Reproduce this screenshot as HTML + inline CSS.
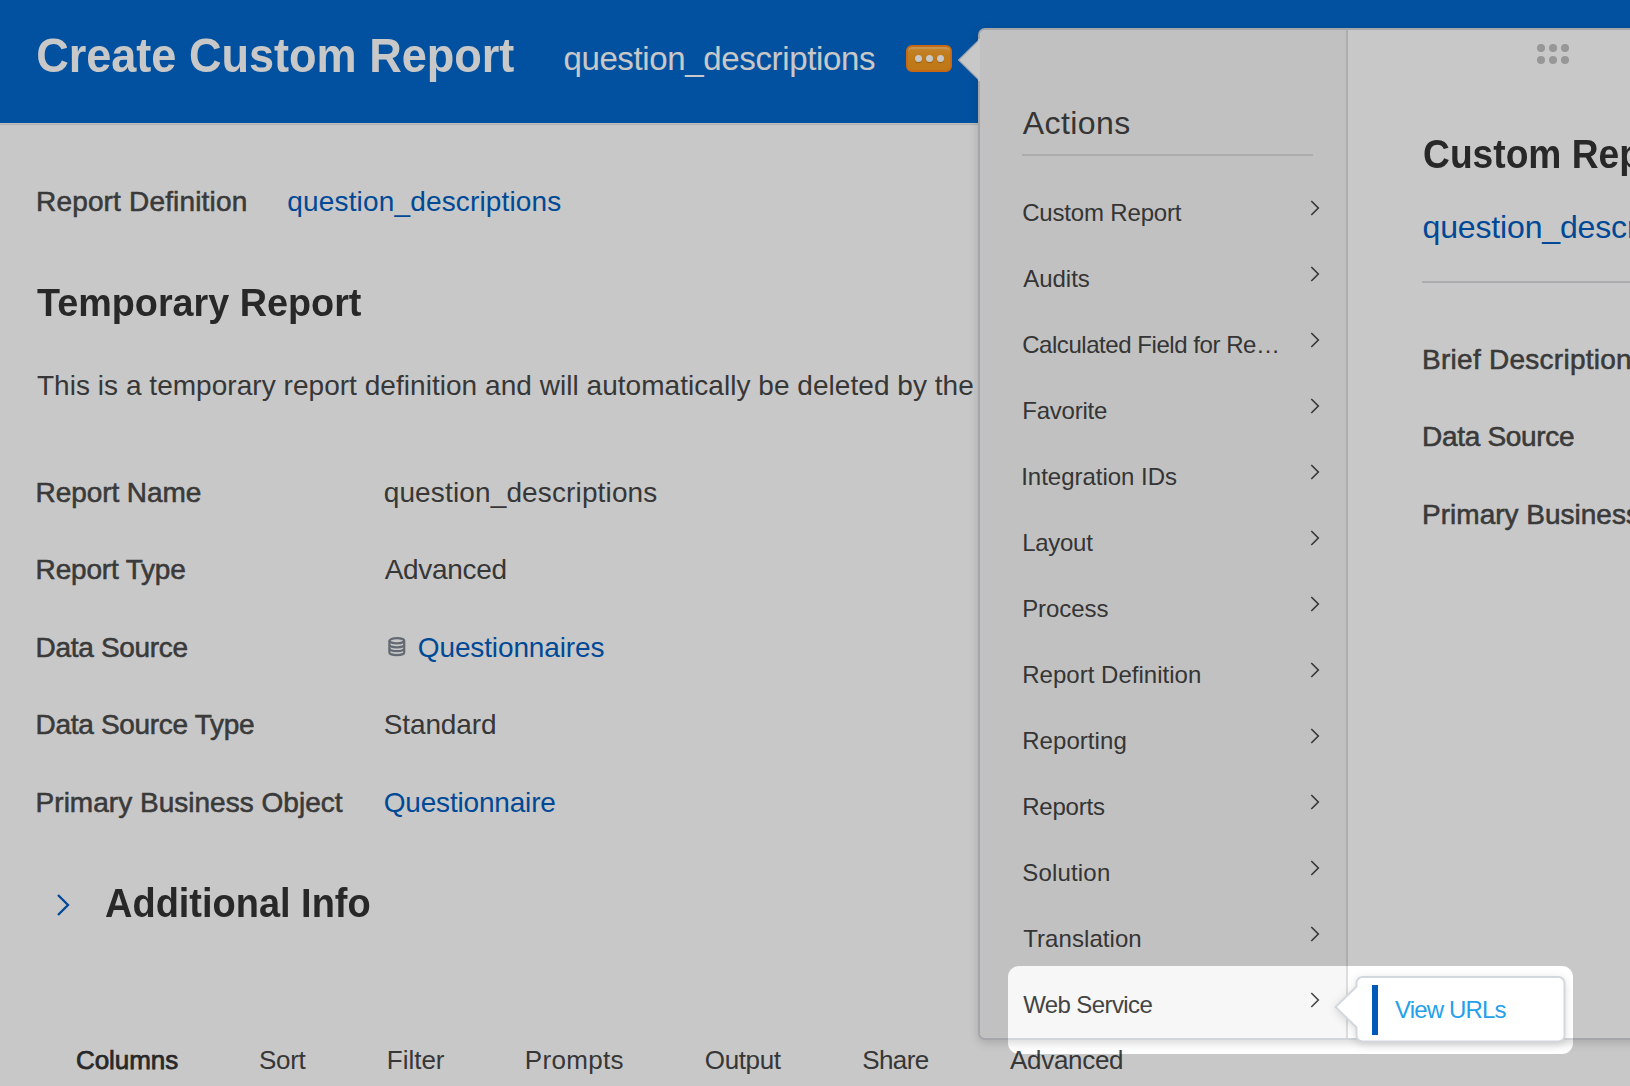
<!DOCTYPE html>
<html><head><meta charset="utf-8"><style>
html,body{margin:0;padding:0;}
body{width:1630px;height:1086px;overflow:hidden;position:relative;background:#ffffff;font-family:"Liberation Sans",sans-serif;}
.t{position:absolute;white-space:nowrap;}
.chev{position:absolute;}
#hdr{position:absolute;left:0;top:0;width:1630px;height:123px;background:#0368cc;box-shadow:0 1px 0 #f8f3f0,0 2px 0 #e0e0e2;}
#btn{position:absolute;left:906px;top:45px;width:42px;height:22.5px;border:2px solid #fd8618;border-radius:6px;background:linear-gradient(#fbaa3a,#f59d22 40%,#f49a1f);box-shadow:inset 0 2px 1px rgba(255,255,255,0.25);}
.bd{position:absolute;width:7px;height:7px;border-radius:50%;background:#fff;top:7.7px;box-shadow:0 1px 1px rgba(140,70,0,0.45);}
#pop{position:absolute;left:978px;top:28px;width:700px;height:1008px;border:2px solid #d1d4d8;border-radius:7px;background:#fff;box-shadow:0 3px 10px rgba(0,0,0,0.16);}
#lp{position:absolute;left:0;top:0;width:366px;height:100%;background:#f7f7f7;border-right:2px solid #dddddd;border-radius:6px 0 0 6px;}
#arrow{position:absolute;left:958px;top:39px;width:22px;height:42px;}
#uline{position:absolute;left:1022px;top:154px;width:291px;height:2px;background:#dcdcdc;}
#rline{position:absolute;left:1422px;top:281px;width:220px;height:2px;background:#dcdce0;}
.dot{position:absolute;width:8px;height:8px;border-radius:50%;background:#c1c1c1;}
#sub{position:absolute;left:1325px;top:970px;filter:drop-shadow(0 2px 4px rgba(0,0,0,0.13));}
#subarrow{position:absolute;left:1333px;top:985px;width:25px;height:45px;}
#bar{position:absolute;left:1372px;top:985px;width:6px;height:50px;background:#0059b8;}
#hole{position:absolute;left:1007.5px;top:966px;width:565px;height:88px;border-radius:11px;box-shadow:0 0 0 3000px rgba(0,0,0,0.216);z-index:50;}
</style></head><body>
<div id="hdr"></div>
<div id="btn"><div class="bd" style="left:6.5px"></div><div class="bd" style="left:17.5px"></div><div class="bd" style="left:28.7px"></div></div>
<svg class="chev" style="left:54px;top:891px" width="18" height="28" viewBox="0 0 18 28"><path d="M4 4 L14 14 L4 24" fill="none" stroke="#005dc0" stroke-width="2.3"/></svg>
<svg style="position:absolute;left:386px;top:636px" width="22" height="22" viewBox="0 0 22 22"><g fill="none" stroke="#7f8893" stroke-width="2.2"><ellipse cx="10.8" cy="4.8" rx="7.4" ry="2.6"/><path d="M3.4 4.8 V16.4 C3.4 18 7 19.1 10.8 19.1 C14.6 19.1 18.2 18 18.2 16.4 V4.8"/><path d="M3.4 8.7 C3.4 10.3 7 11.3 10.8 11.3 C14.6 11.3 18.2 10.3 18.2 8.7"/><path d="M3.4 12.6 C3.4 14.2 7 15.2 10.8 15.2 C14.6 15.2 18.2 14.2 18.2 12.6"/></g></svg>
<div class="t" style="left:35.9px;top:31.3px;font-size:49px;line-height:49px;font-weight:bold;color:#ffffff;letter-spacing:0.00px;transform:scaleX(0.9196);transform-origin:2.0px 0;">Create Custom Report</div>
<div class="t" style="left:563.4px;top:41.9px;font-size:33px;line-height:33px;font-weight:normal;color:#ffffff;letter-spacing:-0.36px;">question_descriptions</div>
<div class="t" style="left:36.0px;top:187.6px;font-size:28px;line-height:28px;font-weight:normal;color:#4a4a4a;letter-spacing:0.17px;-webkit-text-stroke:0.55px currentColor;">Report Definition</div>
<div class="t" style="left:287.3px;top:187.8px;font-size:28px;line-height:28px;font-weight:normal;color:#005dc0;letter-spacing:0.16px;">question_descriptions</div>
<div class="t" style="left:36.9px;top:283.2px;font-size:39px;line-height:39px;font-weight:bold;color:#333333;letter-spacing:0.00px;transform:scaleX(0.9678);transform-origin:0.0px 0;">Temporary Report</div>
<div class="t" style="left:36.9px;top:371.8px;font-size:28px;line-height:28px;font-weight:normal;color:#474747;letter-spacing:0.04px;">This is a temporary report definition and will automatically be deleted by the system</div>
<div class="t" style="left:35.6px;top:478.9px;font-size:28px;line-height:28px;font-weight:normal;color:#4a4a4a;letter-spacing:-0.09px;-webkit-text-stroke:0.55px currentColor;">Report Name</div>
<div class="t" style="left:35.6px;top:556.3px;font-size:28px;line-height:28px;font-weight:normal;color:#4a4a4a;letter-spacing:-0.18px;-webkit-text-stroke:0.55px currentColor;">Report Type</div>
<div class="t" style="left:35.6px;top:633.8px;font-size:28px;line-height:28px;font-weight:normal;color:#4a4a4a;letter-spacing:-0.32px;-webkit-text-stroke:0.55px currentColor;">Data Source</div>
<div class="t" style="left:35.6px;top:711.3px;font-size:28px;line-height:28px;font-weight:normal;color:#4a4a4a;letter-spacing:-0.31px;-webkit-text-stroke:0.55px currentColor;">Data Source Type</div>
<div class="t" style="left:35.6px;top:788.7px;font-size:28px;line-height:28px;font-weight:normal;color:#4a4a4a;letter-spacing:0.02px;-webkit-text-stroke:0.55px currentColor;">Primary Business Object</div>
<div class="t" style="left:383.7px;top:478.9px;font-size:28px;line-height:28px;font-weight:normal;color:#474747;letter-spacing:0.14px;">question_descriptions</div>
<div class="t" style="left:384.7px;top:556.3px;font-size:28px;line-height:28px;font-weight:normal;color:#474747;letter-spacing:-0.31px;">Advanced</div>
<div class="t" style="left:417.8px;top:633.8px;font-size:28px;line-height:28px;font-weight:normal;color:#005dc0;letter-spacing:-0.13px;">Questionnaires</div>
<div class="t" style="left:383.7px;top:711.3px;font-size:28px;line-height:28px;font-weight:normal;color:#474747;letter-spacing:-0.11px;">Standard</div>
<div class="t" style="left:383.7px;top:788.7px;font-size:28px;line-height:28px;font-weight:normal;color:#005dc0;letter-spacing:-0.18px;">Questionnaire</div>
<div class="t" style="left:105.2px;top:883.3px;font-size:40px;line-height:40px;font-weight:bold;color:#333333;letter-spacing:0.00px;transform:scaleX(0.9488);transform-origin:1.0px 0;">Additional Info</div>
<div class="t" style="left:76.0px;top:1047.3px;font-size:26px;line-height:26px;font-weight:normal;color:#333333;letter-spacing:-0.07px;-webkit-text-stroke:0.75px currentColor;">Columns</div>
<div class="t" style="left:259.0px;top:1047.3px;font-size:26px;line-height:26px;font-weight:normal;color:#474747;letter-spacing:-0.29px;">Sort</div>
<div class="t" style="left:386.8px;top:1047.3px;font-size:26px;line-height:26px;font-weight:normal;color:#474747;letter-spacing:-0.02px;">Filter</div>
<div class="t" style="left:524.8px;top:1047.3px;font-size:26px;line-height:26px;font-weight:normal;color:#474747;letter-spacing:0.32px;">Prompts</div>
<div class="t" style="left:704.8px;top:1047.3px;font-size:26px;line-height:26px;font-weight:normal;color:#474747;letter-spacing:-0.37px;">Output</div>
<div class="t" style="left:862.3px;top:1047.3px;font-size:26px;line-height:26px;font-weight:normal;color:#474747;letter-spacing:-0.63px;">Share</div>
<div class="t" style="left:1010.0px;top:1047.3px;font-size:26px;line-height:26px;font-weight:normal;color:#474747;letter-spacing:-0.30px;">Advanced</div>
<div id="pop"><div id="lp"></div></div>
<svg id="arrow" viewBox="0 0 22 42"><path d="M22 0 L0.5 21 L22 42 Z" fill="#fff" stroke="#d1d4d8" stroke-width="1.2"/><rect x="20.2" y="0" width="3" height="42" fill="#fff"/></svg>
<div id="uline"></div>
<div id="rline"></div>
<div class="dot" style="left:1537px;top:44px"></div><div class="dot" style="left:1549px;top:44px"></div><div class="dot" style="left:1561px;top:44px"></div>
<div class="dot" style="left:1537px;top:56px"></div><div class="dot" style="left:1549px;top:56px"></div><div class="dot" style="left:1561px;top:56px"></div>
<svg class="chev" style="left:1308px;top:197.8px" width="14" height="20" viewBox="0 0 14 20"><path d="M3.3 3 L10.3 10 L3.3 17" fill="none" stroke="#444" stroke-width="1.6"/></svg><svg class="chev" style="left:1308px;top:263.8px" width="14" height="20" viewBox="0 0 14 20"><path d="M3.3 3 L10.3 10 L3.3 17" fill="none" stroke="#444" stroke-width="1.6"/></svg><svg class="chev" style="left:1308px;top:329.8px" width="14" height="20" viewBox="0 0 14 20"><path d="M3.3 3 L10.3 10 L3.3 17" fill="none" stroke="#444" stroke-width="1.6"/></svg><svg class="chev" style="left:1308px;top:395.8px" width="14" height="20" viewBox="0 0 14 20"><path d="M3.3 3 L10.3 10 L3.3 17" fill="none" stroke="#444" stroke-width="1.6"/></svg><svg class="chev" style="left:1308px;top:461.8px" width="14" height="20" viewBox="0 0 14 20"><path d="M3.3 3 L10.3 10 L3.3 17" fill="none" stroke="#444" stroke-width="1.6"/></svg><svg class="chev" style="left:1308px;top:527.8px" width="14" height="20" viewBox="0 0 14 20"><path d="M3.3 3 L10.3 10 L3.3 17" fill="none" stroke="#444" stroke-width="1.6"/></svg><svg class="chev" style="left:1308px;top:593.8px" width="14" height="20" viewBox="0 0 14 20"><path d="M3.3 3 L10.3 10 L3.3 17" fill="none" stroke="#444" stroke-width="1.6"/></svg><svg class="chev" style="left:1308px;top:659.8px" width="14" height="20" viewBox="0 0 14 20"><path d="M3.3 3 L10.3 10 L3.3 17" fill="none" stroke="#444" stroke-width="1.6"/></svg><svg class="chev" style="left:1308px;top:725.8px" width="14" height="20" viewBox="0 0 14 20"><path d="M3.3 3 L10.3 10 L3.3 17" fill="none" stroke="#444" stroke-width="1.6"/></svg><svg class="chev" style="left:1308px;top:791.8px" width="14" height="20" viewBox="0 0 14 20"><path d="M3.3 3 L10.3 10 L3.3 17" fill="none" stroke="#444" stroke-width="1.6"/></svg><svg class="chev" style="left:1308px;top:857.8px" width="14" height="20" viewBox="0 0 14 20"><path d="M3.3 3 L10.3 10 L3.3 17" fill="none" stroke="#444" stroke-width="1.6"/></svg><svg class="chev" style="left:1308px;top:923.8px" width="14" height="20" viewBox="0 0 14 20"><path d="M3.3 3 L10.3 10 L3.3 17" fill="none" stroke="#444" stroke-width="1.6"/></svg><svg class="chev" style="left:1308px;top:989.8px" width="14" height="20" viewBox="0 0 14 20"><path d="M3.3 3 L10.3 10 L3.3 17" fill="none" stroke="#444" stroke-width="1.6"/></svg>
<svg id="sub" width="250" height="80" viewBox="1325 970 250 80"><path d="M1362.5 977 H1558.5 A6 6 0 0 1 1564.5 983 V1035.5 A6 6 0 0 1 1558.5 1041.5 H1362.5 A6 6 0 0 1 1356.5 1035.5 V1027.5 L1335.5 1007 L1356.5 986.5 V983 A6 6 0 0 1 1362.5 977 Z" fill="#fff" stroke="#d3d8de" stroke-width="2"/></svg>
<div id="bar"></div>
<div class="t" style="left:1022.8px;top:107.3px;font-size:32px;line-height:32px;font-weight:normal;color:#444444;letter-spacing:0.41px;">Actions</div>
<div class="t" style="left:1022.2px;top:201.2px;font-size:24px;line-height:24px;font-weight:normal;color:#444444;letter-spacing:-0.17px;">Custom Report</div>
<div class="t" style="left:1023.2px;top:267.2px;font-size:24px;line-height:24px;font-weight:normal;color:#444444;letter-spacing:-0.02px;">Audits</div>
<div class="t" style="left:1022.2px;top:333.2px;font-size:24px;line-height:24px;font-weight:normal;color:#444444;letter-spacing:-0.45px;">Calculated Field for Re…</div>
<div class="t" style="left:1022.2px;top:399.2px;font-size:24px;line-height:24px;font-weight:normal;color:#444444;letter-spacing:-0.21px;">Favorite</div>
<div class="t" style="left:1021.2px;top:465.2px;font-size:24px;line-height:24px;font-weight:normal;color:#444444;letter-spacing:-0.02px;">Integration IDs</div>
<div class="t" style="left:1022.2px;top:531.2px;font-size:24px;line-height:24px;font-weight:normal;color:#444444;letter-spacing:-0.28px;">Layout</div>
<div class="t" style="left:1022.2px;top:597.2px;font-size:24px;line-height:24px;font-weight:normal;color:#444444;letter-spacing:-0.08px;">Process</div>
<div class="t" style="left:1022.2px;top:663.2px;font-size:24px;line-height:24px;font-weight:normal;color:#444444;letter-spacing:0.02px;">Report Definition</div>
<div class="t" style="left:1022.2px;top:729.2px;font-size:24px;line-height:24px;font-weight:normal;color:#444444;letter-spacing:0.06px;">Reporting</div>
<div class="t" style="left:1022.2px;top:795.2px;font-size:24px;line-height:24px;font-weight:normal;color:#444444;letter-spacing:-0.21px;">Reports</div>
<div class="t" style="left:1022.2px;top:861.2px;font-size:24px;line-height:24px;font-weight:normal;color:#444444;letter-spacing:0.19px;">Solution</div>
<div class="t" style="left:1023.2px;top:927.2px;font-size:24px;line-height:24px;font-weight:normal;color:#444444;letter-spacing:0.07px;">Translation</div>
<div class="t" style="left:1023.2px;top:993.2px;font-size:24px;line-height:24px;font-weight:normal;color:#444444;letter-spacing:-0.60px;">Web Service</div>
<div class="t" style="left:1423.1px;top:133.9px;font-size:40px;line-height:40px;font-weight:bold;color:#333333;letter-spacing:0.00px;transform:scaleX(0.9290);transform-origin:1.0px 0;">Custom Report Definition</div>
<div class="t" style="left:1422.6px;top:211.1px;font-size:32px;line-height:32px;font-weight:normal;color:#005dc0;letter-spacing:-0.16px;">question_descriptions</div>
<div class="t" style="left:1422.1px;top:345.9px;font-size:28px;line-height:28px;font-weight:normal;color:#4a4a4a;letter-spacing:0.26px;-webkit-text-stroke:0.55px currentColor;">Brief Description</div>
<div class="t" style="left:1422.1px;top:422.7px;font-size:28px;line-height:28px;font-weight:normal;color:#4a4a4a;letter-spacing:-0.32px;-webkit-text-stroke:0.55px currentColor;">Data Source</div>
<div class="t" style="left:1422.1px;top:500.8px;font-size:28px;line-height:28px;font-weight:normal;color:#4a4a4a;letter-spacing:0.00px;-webkit-text-stroke:0.55px currentColor;">Primary Business Object</div>
<div class="t" style="left:1394.9px;top:998.2px;font-size:24px;line-height:24px;font-weight:normal;color:#24a0ea;letter-spacing:-0.83px;">View URLs</div>
<div id="hole"></div>
</body></html>
